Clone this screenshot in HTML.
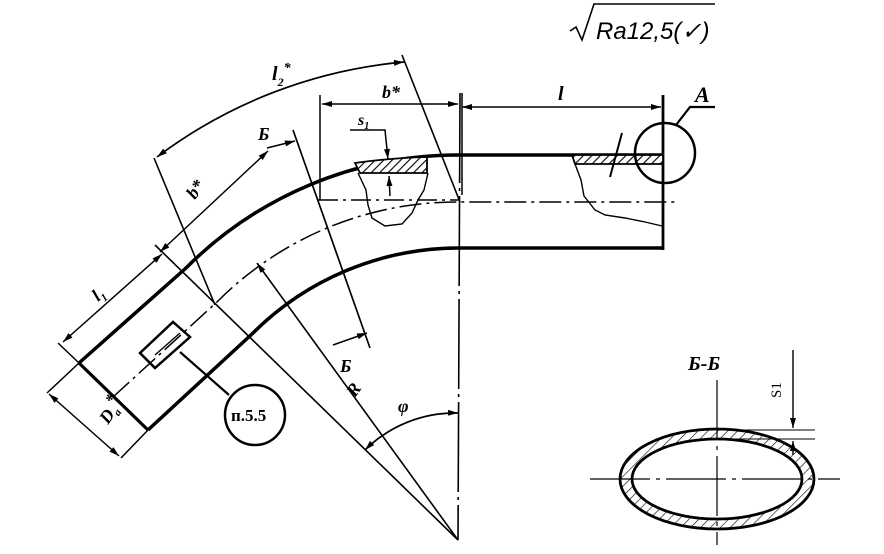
<!DOCTYPE html>
<html><head><meta charset="utf-8"><style>
html,body{margin:0;padding:0;background:#fff;width:884px;height:554px;overflow:hidden}
svg{display:block}
text{font-family:"Liberation Serif",serif;font-style:italic;font-weight:bold;fill:#000}
</style></head><body>
<svg width="884" height="554" viewBox="0 0 884 554" xmlns="http://www.w3.org/2000/svg">
<defs>
<marker id="a" viewBox="0 0 10 6" refX="10" refY="3" markerWidth="11" markerHeight="6" orient="auto" markerUnits="userSpaceOnUse"><path d="M0,0L10,3L0,6z" fill="#000"/></marker>
<marker id="b" viewBox="0 0 10 6" refX="0" refY="3" markerWidth="11" markerHeight="6" orient="auto" markerUnits="userSpaceOnUse"><path d="M10,0L0,3L10,6z" fill="#000"/></marker>
<pattern id="h" width="6" height="6" patternUnits="userSpaceOnUse" patternTransform="rotate(45)"><rect width="6" height="6" fill="#fff"/><line x1="0" y1="0" x2="0" y2="6" stroke="#000" stroke-width="2.2"/></pattern>
<pattern id="h2" width="7" height="7" patternUnits="userSpaceOnUse" patternTransform="rotate(45)"><rect width="7" height="7" fill="#fff"/><line x1="0" y1="0" x2="0" y2="7" stroke="#000" stroke-width="1.2"/></pattern>
</defs>
<g fill="none" stroke="#000">
<path d="M79,363 L186,268 A385,385 0 0 1 458,155 L663,155" stroke-width="3.5"/>
<path d="M148,430 L252,334 A292,292 0 0 1 458,248 L663,248" stroke-width="3.5"/>
<path d="M79,363 L148,430" stroke-width="3.2"/>
<path d="M663,95 L663,250" stroke-width="2.8"/>
<path d="M355,163 Q390,158 427,157 L427,173 L360,173 Z" fill="url(#h)" stroke-width="1.8"/>
<path d="M572,155 L663,155 L663,164 L575,164 Z" fill="url(#h)" stroke-width="1.8"/>
<path d="M358,173 L366,190 L368,205 L372,218 L385,226 L402,224 L412,213 L418,200 L424,190 L428,173" stroke-width="1.4"/>
<path d="M575,164 L581,180 L584,196 L595,210 L605,215 L625,218 L645,222 L662,226" stroke-width="1.4"/>
<path d="M113,397 L218,301 A338,338 0 0 1 458,202 L675,202" stroke-width="1.5" stroke-dasharray="22,5,3,5"/>
<path d="M318,200 L460,200" stroke-width="1.5" stroke-dasharray="20,5,3,5"/>
<path d="M460,93 L458,540" stroke-width="1.6" stroke-dasharray="90,5,3,5"/>
<path d="M140,353 L173,322 L190,337 L155,368 Z" stroke-width="2.5"/>
<path d="M155,355 L180,333" stroke-width="1.4"/>
<path d="M180,352 L229,395" stroke-width="2.2"/>
<circle cx="255" cy="415" r="30" stroke-width="2.5"/>
<path d="M155,245 L458,540" stroke-width="1.6"/>
<path d="M257,263 L458,540" stroke-width="1.6" marker-start="url(#b)"/>
<path d="M154,158 L215,305" stroke-width="1.6"/>
<path d="M402,55 L460,202" stroke-width="1.6"/>
<path d="M293,130 L370,348" stroke-width="1.7"/>
<path d="M267,148 L295,141" stroke-width="1.5" marker-end="url(#a)"/>
<path d="M333,345 L367,333" stroke-width="1.5" marker-end="url(#a)"/>
<path d="M157,157 A482,482 0 0 1 404,62" stroke-width="1.7" marker-start="url(#b)" marker-end="url(#a)"/>
<path d="M322,104 L458,104" stroke-width="1.5" marker-start="url(#b)" marker-end="url(#a)"/>
<path d="M462,107 L661,107" stroke-width="1.5" marker-start="url(#b)" marker-end="url(#a)"/>
<path d="M320,95 L320,200" stroke-width="1.5"/>
<path d="M462,93 L462,195" stroke-width="1.5"/>
<path d="M160,252 L268,151" stroke-width="1.5" marker-start="url(#b)" marker-end="url(#a)"/>
<path d="M63,342 L162,254" stroke-width="1.5" marker-start="url(#b)" marker-end="url(#a)"/>
<path d="M58,343 L79,363 M79,363 L47,393 M148,430 L121,458" stroke-width="1.5"/>
<path d="M49,394 L119,456" stroke-width="1.5" marker-start="url(#b)" marker-end="url(#a)"/>
<path d="M350,130 L385,130 L388,159" stroke-width="1.5" marker-end="url(#a)"/>
<path d="M390,196 L389,176" stroke-width="1.5" marker-end="url(#a)"/>
<path d="M365,450 A128,128 0 0 1 458,413" stroke-width="1.7" marker-start="url(#b)" marker-end="url(#a)"/>
<circle cx="665" cy="153" r="30" stroke-width="2.5"/>
<path d="M676,125 L690,107 L715,107" stroke-width="2.2"/>
<path d="M610,177 L622,133" stroke-width="2"/>
<ellipse cx="717" cy="479" rx="97" ry="50" fill="url(#h2)" stroke-width="2.8"/>
<ellipse cx="717" cy="479" rx="85" ry="40" fill="#fff" stroke-width="2.8"/>
<path d="M590,479 L840,479" stroke-width="1.2" stroke-dasharray="60,6,4,6"/>
<path d="M717,380 L717,545" stroke-width="1.2" stroke-dasharray="60,6,4,6"/>
<path d="M717,430 L815,430 M717,439 L815,439" stroke-width="1.1"/>
<path d="M793,350 L793,428" stroke-width="1.4" marker-end="url(#a)"/>
<path d="M793,441 L793,455" stroke-width="1.4" marker-start="url(#b)"/>
<path d="M570,31 L576,27 L582,40 L594,4 L715,4" stroke-width="1.6"/>
</g>
<text x="596" y="39" font-size="24" style="font-family:'Liberation Sans',sans-serif;font-weight:normal">Ra12,5(✓)</text>
<text x="272" y="80" font-size="20">l<tspan font-size="12" dy="6">2</tspan><tspan dy="-14" font-size="14">*</tspan></text>
<text x="382" y="98" font-size="18">b*</text>
<text x="558" y="100" font-size="20">l</text>
<text x="695" y="102" font-size="22">A</text>
<text x="358" y="125" font-size="16">s<tspan font-size="10" dy="4">1</tspan></text>
<text x="258" y="140" font-size="18">Б</text>
<text x="340" y="372" font-size="18">Б</text>
<text transform="translate(195,200) rotate(-55)" font-size="18">b*</text>
<text transform="translate(98,302) rotate(-40)" font-size="18">l<tspan font-size="11" dy="4">1</tspan></text>
<text transform="translate(108,425) rotate(-55)" font-size="18">D<tspan font-size="11" dy="4">a</tspan><tspan dy="-10">*</tspan></text>
<text transform="translate(355,398) rotate(-55)" font-size="18">R</text>
<text x="398" y="412" font-size="18">φ</text>
<text x="231" y="421" font-size="17" style="font-style:normal">п.5.5</text>
<text x="688" y="370" font-size="20">Б-Б</text>
<text transform="translate(781,398) rotate(-90)" font-size="15" style="font-style:normal;font-weight:normal">S1</text>
</svg>
</body></html>
